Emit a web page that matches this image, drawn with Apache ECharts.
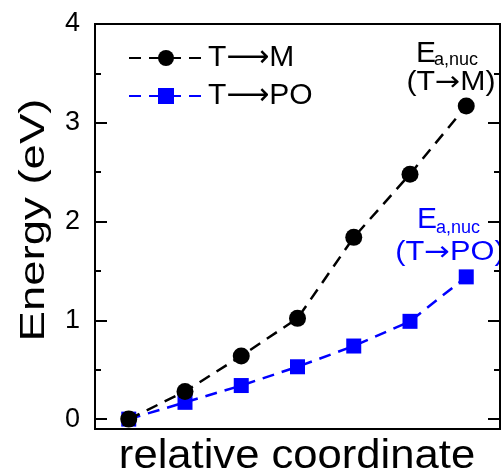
<!DOCTYPE html>
<html>
<head>
<meta charset="utf-8">
<script src="https://cdn.jsdelivr.net/npm/echarts@6/dist/echarts.min.js"></script>
<style>
  html, body { margin: 0; padding: 0; background: #fff; }
  #chart { width: 501px; height: 474px; }
</style>
</head>
<body>
<div id="chart"></div>
<script>
// reaction coordinate steps and energies (eV)
const steps = [0, 1, 2, 3, 4, 5, 6]
const toM = [0, 0.28, 0.64, 1.02, 1.84, 2.48, 3.17]
const toPO = [0, 0.17, 0.34, 0.53, 0.74, 0.99, 1.44]
const majorTicks = [0, 1, 2, 3, 4]
const minorTicks = [0.5, 1.5, 2.5, 3.5]

const FONT = 'Liberation Sans, Arial, sans-serif'
const BLUE = '#0000ff'

const pairs = (ys) => steps.map((x, i) => [x, ys[i]])

const frameLine = { show: true, onZero: false, lineStyle: { color: '#000', width: 2 } }

const yAxisBase = (position, ticks, len, showLabel) => ({
  type: 'value',
  position: position,
  min: -0.1,
  max: 4,
  splitLine: { show: false },
  axisLine: frameLine,
  axisTick: { show: true, inside: true, length: len, customValues: ticks, lineStyle: { color: '#000', width: 2 } },
  axisLabel: { show: showLabel, customValues: ticks, color: '#000', fontSize: 27, fontFamily: FONT, margin: 15 }
})

// text label drawn centred on (x, y), optionally stretched like the original figure
const label = (text, x, y, size, color, opts) => Object.assign({
  type: 'text',
  x: x,
  y: y,
  style: {
    text: text,
    fontSize: size,
    fontFamily: FONT,
    fill: color,
    textAlign: 'center',
    textVerticalAlign: 'middle',
    rich: { a: { fontFamily: 'DejaVu Sans', fontSize: size, fill: color } }
  }
}, opts || {})

const chart = echarts.init(document.getElementById('chart'))

chart.setOption({
  animation: false,
  grid: { left: 95, right: 1, top: 24, bottom: 45 },
  legend: {
    orient: 'vertical',
    left: 123,
    top: 38,
    itemWidth: 74,
    itemHeight: 20,
    itemGap: 8,
    textStyle: {
      fontSize: 30,
      fontFamily: FONT,
      color: '#000',
      padding: [0, 0, 0, 0],
      rich: { a: { fontFamily: 'DejaVu Sans', fontSize: 30, color: '#000' } }
    },
    formatter: (name) => name.replace('→', '{a|⟶}'),
    data: ['T→M', 'T→PO']
  },
  xAxis: [
    {
      type: 'value',
      min: -0.6,
      max: 6.6,
      splitLine: { show: false },
      axisLine: frameLine,
      axisTick: { show: false },
      axisLabel: { show: false }
    },
    {
      type: 'value',
      position: 'top',
      min: -0.6,
      max: 6.6,
      splitLine: { show: false },
      axisLine: frameLine,
      axisTick: { show: false },
      axisLabel: { show: false }
    }
  ],
  yAxis: [
    yAxisBase('left', majorTicks, 12, true),
    yAxisBase('left', minorTicks, 6, false),
    yAxisBase('right', majorTicks, 12, false),
    yAxisBase('right', minorTicks, 6, false)
  ],
  series: [
    {
      name: 'T→PO',
      type: 'line',
      data: pairs(toPO),
      symbol: 'rect',
      symbolSize: 15,
      itemStyle: { color: BLUE },
      lineStyle: { color: BLUE, width: 2.5, type: [12, 8] },
      z: 2
    },
    {
      name: 'T→M',
      type: 'line',
      data: pairs(toM),
      symbol: 'circle',
      symbolSize: 17,
      itemStyle: { color: '#000' },
      lineStyle: { color: '#000', width: 2.5, type: [12, 8] },
      z: 3
    }
  ],
  graphic: [
    // axis titles
    label('relative coordinate', 297, 457, 40, '#000', { scaleX: 1.09 }),
    label('Energy (eV)', 34, 220, 35, '#000', { rotation: Math.PI / 2, scaleX: 1.3 }),
    // annotations
    Object.assign(label('E', 416, 54, 30, '#000'), { style: { text: 'E', fontSize: 30, fontFamily: FONT, fill: '#000', textAlign: 'left', textVerticalAlign: 'middle' } }),
    Object.assign(label('a,nuc', 434, 60, 18, '#000'), { style: { text: 'a,nuc', fontSize: 18, fontFamily: FONT, fill: '#000', textAlign: 'left', textVerticalAlign: 'middle' } }),
    label('(T{a|→}M)', 451, 83, 27, '#000', { scaleX: 1.12 }),
    Object.assign(label('E', 417, 220, 30, BLUE), { style: { text: 'E', fontSize: 30, fontFamily: FONT, fill: BLUE, textAlign: 'left', textVerticalAlign: 'middle' } }),
    Object.assign(label('a,nuc', 436, 228, 18, BLUE), { style: { text: 'a,nuc', fontSize: 18, fontFamily: FONT, fill: BLUE, textAlign: 'left', textVerticalAlign: 'middle' } }),
    label('(T{a|→}PO)', 450, 253, 27, BLUE, { scaleX: 1.14 })
  ]
})
</script>
</body>
</html>
